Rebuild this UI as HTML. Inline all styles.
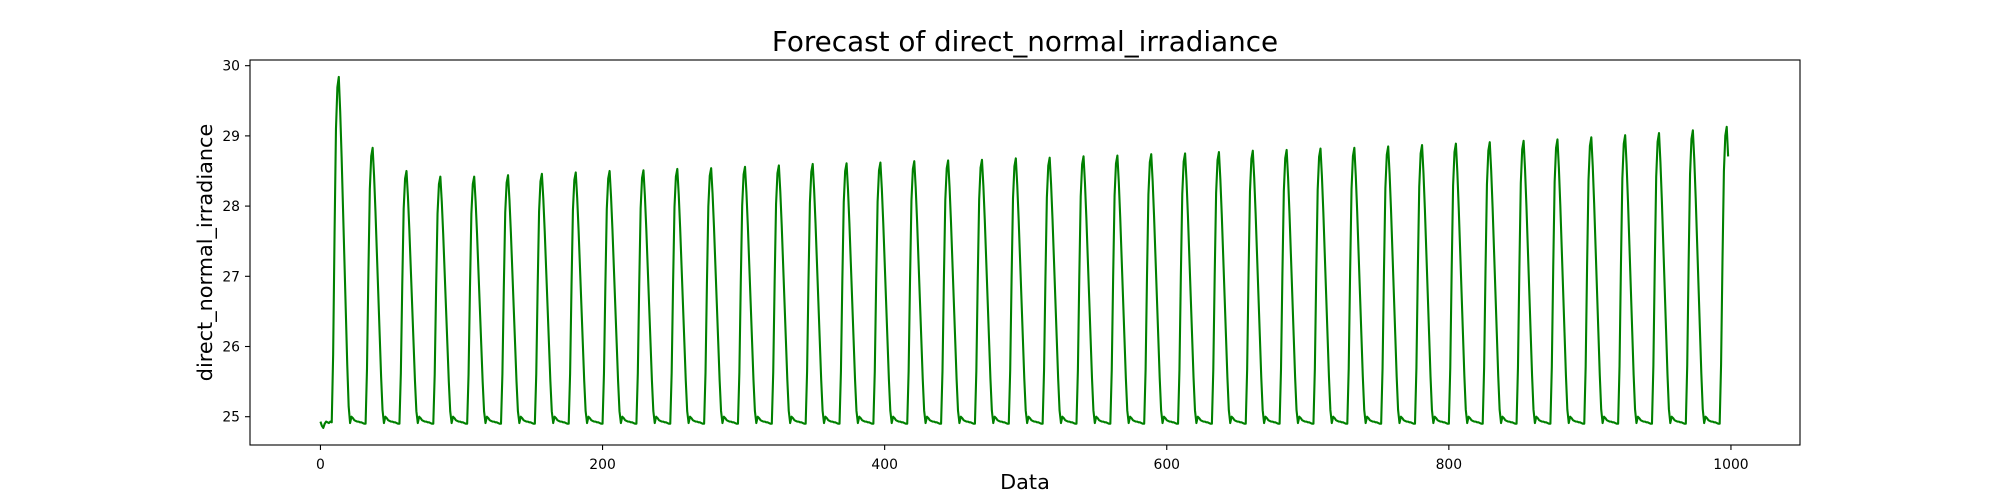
<!DOCTYPE html>
<html><head><meta charset="utf-8">
<style>
html,body{margin:0;padding:0;background:#fff;}
svg{display:block;font-family:"DejaVu Sans","Liberation Sans",sans-serif;}
</style></head>
<body>
<svg id="chart" width="2000" height="500" viewBox="0 0 2000 500" xmlns="http://www.w3.org/2000/svg">
<rect x="0" y="0" width="2000" height="500" fill="#fff"/>
<text x="1025" y="51" text-anchor="middle" font-size="27.8" fill="#000">Forecast of direct_normal_irradiance</text>
<text x="1025" y="489" text-anchor="middle" font-size="20.8" fill="#000">Data</text>
<text transform="translate(212,252.5) rotate(-90)" text-anchor="middle" font-size="20.8" fill="#000">direct_normal_irradiance</text>
<g id="xticks"></g>
<g id="yticks"></g>
<path id="series" fill="none" stroke="#008000" stroke-width="2.1" stroke-linejoin="round"/>
<rect x="250" y="60" width="1550" height="385" fill="none" stroke="#000" stroke-width="1.1"/>
</svg>
<script>
const dailyPeaks = [29.84,28.83,28.50,28.42,28.42,28.44,28.46,28.48,28.50,28.51,28.53,28.54,28.56,28.58,28.60,28.61,28.62,28.64,28.65,28.66,28.68,28.69,28.71,28.72,28.74,28.75,28.77,28.79,28.80,28.82,28.83,28.85,28.87,28.89,28.91,28.93,28.95,28.98,29.01,29.04,29.08,29.13];
const hourShape = [0,0,0,0,0,0,0,0,0,0.2,0.55,0.85,0.97,1.0,0.9,0.77,0.62,0.47,0.32,0.17,0.05,0,0,0];
const lowValues = [24.95,24.94,24.93,24.93,24.92,24.92,24.91,24.90,24.90,24.90,24.90,24.90,24.90,24.90,24.90,24.90,24.90,24.90,24.90,24.90,24.90,24.91,25.00,24.98];
const firstValues = [24.93,24.87,24.84,24.90,24.93,24.92,24.91,24.93,24.92];
const pointCount = 999;
const xTicks = [0,200,400,600,800,1000];
const yTicks = [25,26,27,28,29,30];

const X0=250,X1=1800,Y0=60,Y1=445;
const xMin=-49.95,xMax=1048.95,yMin=24.597,yMax=30.081;
const xs=v=>X0+(v-xMin)/(xMax-xMin)*(X1-X0);
const ys=v=>Y1-(v-yMin)/(yMax-yMin)*(Y1-Y0);

const values=[];
for(let i=0;i<pointCount;i++){
  const d=Math.floor(i/24),h=i%24;
  let v=lowValues[h]+hourShape[h]*(dailyPeaks[d]-lowValues[h]);
  if(i<firstValues.length) v=firstValues[i];
  values.push(v);
}
let dstr='';
values.forEach((v,i)=>{dstr+=(i?'L':'M')+xs(i).toFixed(2)+','+ys(v).toFixed(2);});
document.getElementById('series').setAttribute('d',dstr);

const NS='http://www.w3.org/2000/svg';
const xg=document.getElementById('xticks');
xTicks.forEach(t=>{
  const l=document.createElementNS(NS,'line');
  
  
  l.setAttribute('x1',xs(t));l.setAttribute('x2',xs(t));l.setAttribute('y1',Y1);l.setAttribute('y2',Y1+5);
  l.setAttribute('stroke','#000');l.setAttribute('stroke-width','1.1');
  xg.appendChild(l);
  const tx=document.createElementNS(NS,'text');
  
  
  tx.setAttribute('x',xs(t));tx.setAttribute('y',Y1+24);tx.setAttribute('text-anchor','middle');tx.setAttribute('font-size','13.9');
  tx.textContent=t;xg.appendChild(tx);
});
const yg=document.getElementById('yticks');
yTicks.forEach(t=>{
  const l=document.createElementNS(NS,'line');
  
  
  l.setAttribute('x1',X0-5);l.setAttribute('x2',X0);l.setAttribute('y1',ys(t));l.setAttribute('y2',ys(t));
  l.setAttribute('stroke','#000');l.setAttribute('stroke-width','1.1');
  yg.appendChild(l);
  const tx=document.createElementNS(NS,'text');
  
  
  tx.setAttribute('x',X0-10);tx.setAttribute('y',ys(t)+5);tx.setAttribute('text-anchor','end');tx.setAttribute('font-size','13.9');
  tx.textContent=t;yg.appendChild(tx);
});
</script>
</body></html>
